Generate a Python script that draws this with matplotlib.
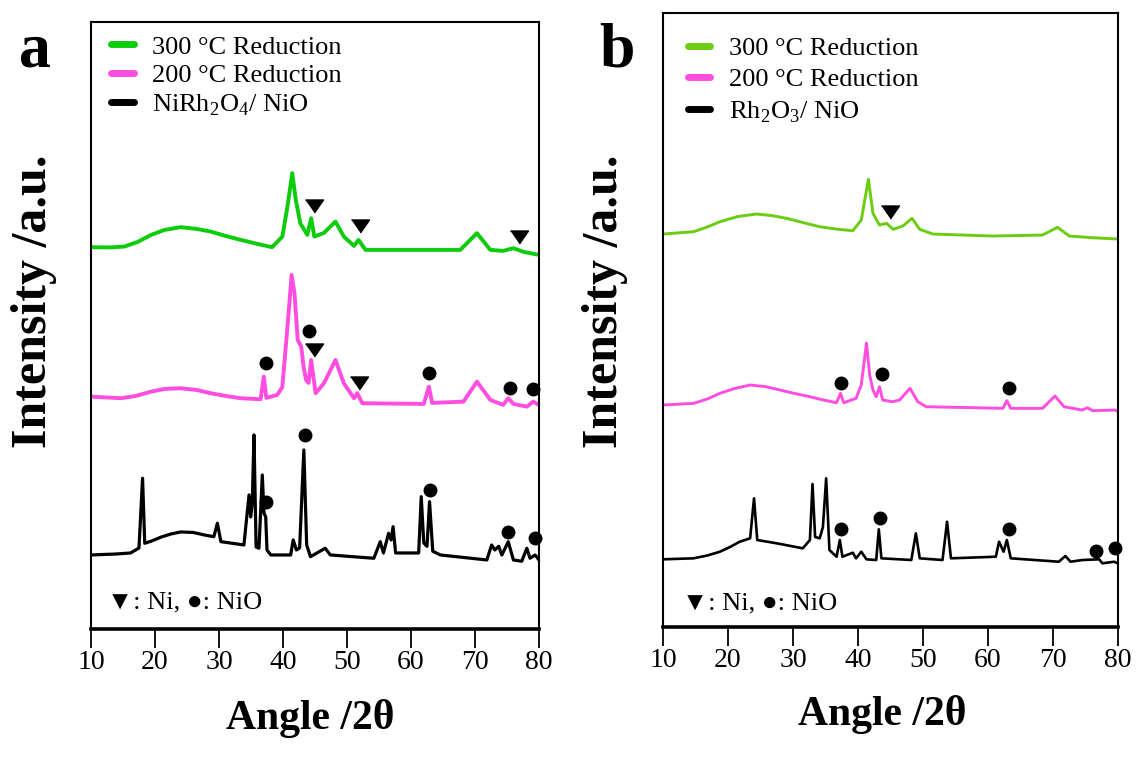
import matplotlib
matplotlib.use("Agg")
import matplotlib.pyplot as plt
from matplotlib.lines import Line2D

plt.rcParams['font.family'] = ['Liberation Serif', 'DejaVu Sans']
plt.rcParams['mathtext.fontset'] = 'custom'
plt.rcParams['mathtext.rm'] = 'Liberation Serif'

# ---------------- Panel a data (2theta, intensity offset a.u.) ----------------
a_black_x = [10, 14.0, 16.2, 17.5, 18.06, 18.4, 19.5, 21.0, 22.5, 24.0, 26.0, 27.7, 29.2, 29.75, 30.3,
             33.9, 34.4, 34.7, 34.95, 35.2, 35.47, 35.8, 36.25, 36.77, 37.03, 37.3, 37.5, 38.1,
             41.2, 41.6, 42.1, 42.6, 43.26, 43.7, 44.3, 46.6, 47.4, 54.2, 55.2, 55.7, 56.5, 56.9,
             57.2, 57.6, 61.2, 61.6, 62.0, 62.5, 62.9, 63.4, 64.6, 71.85, 72.6, 73.1, 73.7, 74.2,
             75.2, 76.0, 77.3, 78.1, 78.6, 79.4, 80.0]
a_black_y = [73, 74, 75, 80, 149.7, 84.7, 87, 91, 94, 96, 95.5, 93, 91.3, 104.7, 86.3,
             83, 114.7, 133, 111, 124.7, 193, 81, 79.7, 153, 114.7, 111, 78, 73,
             73, 88, 78, 80, 178, 83, 71.3, 79.7, 73, 69.7, 86.3, 75, 94.7, 88,
             101.3, 75, 75, 131.3, 85, 81.7, 126.3, 76.7, 73, 68, 83, 78, 81.7, 73,
             86.3, 68, 66.7, 79.7, 69.7, 73, 68]

a_pink_x = [10, 14.7, 17.0, 19.4, 21.5, 24.0, 26.5, 28.7, 31.0, 33.4, 36.5, 37.0, 37.4, 39.1, 39.9,
            40.7, 41.35, 41.8, 42.3, 42.85, 43.2, 43.6, 44.0, 44.4, 45.1, 46.4, 48.2, 49.5, 51.1,
            51.6, 52.4, 62.0, 62.8, 63.3, 68.2, 70.3, 72.4, 74.4, 75.2, 76.0, 78.1, 79.1, 80.0]
a_pink_y = [231.3, 229.7, 232, 236.3, 239, 239.7, 238, 234.7, 232, 229.7, 228.7, 251.3, 230, 233, 241,
            301, 353, 334.7, 288, 281.3, 262, 248, 245, 268, 234.7, 244.7, 268, 244.7, 229.7,
            234.7, 224.7, 224, 241.3, 225, 226.3, 246.3, 228, 223, 229.7, 224, 221.3, 226.3, 223]

a_green_x = [10, 13.0, 15.2, 17.3, 19.4, 21.5, 24.0, 26.5, 28.7, 31.0, 33.4, 36.0, 38.3, 39.9, 40.7,
             41.45, 42.0, 42.7, 43.8, 44.4, 44.9, 46.4, 48.2, 49.5, 51.1, 51.8, 52.9, 67.7, 70.3,
             72.4, 74.4, 76.0, 77.6, 80.0]
a_green_y = [380.7, 380.5, 381.3, 386, 393, 398, 400.7, 399, 396.3, 392, 388, 384, 380.7, 391.3, 421.3,
             454.7, 428, 404.7, 393, 409.7, 391.3, 395, 406.3, 391.3, 382, 388, 378, 378, 394.7,
             378, 377, 379.7, 376, 373]

# marker positions, panel a
a_ni_x = [44.8, 52.0, 76.9, 44.8, 51.8]
a_ni_y = [422, 402, 391.3, 278, 244.7]
a_nio_x = [37.3, 43.4, 63.0, 75.2, 79.4, 37.4, 44.0, 62.75, 75.5, 79.1]
a_nio_y = [126, 193, 138, 96.3, 89.7, 264.7, 297.3, 255.3, 239.7, 238.7]

# ---------------- Panel b data ----------------
b_black_x = [10, 14.7, 16.8, 18.75, 20.3, 21.8, 23.4, 24.0, 24.5, 27.5, 31.5, 32.6, 33.0, 33.4, 34.1,
             34.6, 35.1, 35.6, 36.7, 37.2, 37.6, 39.2, 39.7, 40.5, 41.3, 42.8, 43.2, 43.6, 48.2,
             48.9, 49.5, 53.0, 53.7, 54.3, 61.2, 61.7, 62.4, 62.9, 63.5, 70.9, 71.9, 72.7, 74.5,
             77.1, 77.6, 79.4, 80.0]
b_black_y = [65.7, 66.7, 69.5, 73.3, 78, 83.3, 86.7, 126.7, 85, 81.7, 76.7, 85, 141, 88, 86.7,
             98, 146.7, 75, 68.3, 85, 68.3, 72.3, 66.7, 73.3, 65.7, 65, 95.7, 66.7, 65,
             91.7, 66.7, 65, 103.3, 66.7, 68.3, 83.3, 73.3, 85, 66.7, 63.3, 69, 63.3, 65,
             65.7, 61.7, 63.3, 61.7]

b_pink_x = [10, 14.7, 16.8, 18.75, 21.0, 23.4, 25.7, 28.0, 30.3, 32.6, 34.7, 36.7, 37.3, 37.8, 39.7,
            40.5, 41.3, 41.8, 42.3, 42.8, 43.3, 43.8, 45.3, 46.4, 48.0, 49.2, 50.5, 62.3, 62.9,
            63.5, 68.4, 70.3, 71.7, 74.5, 75.3, 76.1, 79.6, 80.0]
b_pink_y = [220, 221.7, 226, 231.7, 236.5, 240, 238.5, 235, 231.5, 228.3, 225, 222.3, 231.7, 222.3, 226.7,
            240, 282, 250, 235, 228.3, 238.3, 225, 223.3, 225, 236.7, 223.3, 218.3, 216.7, 224.3,
            216.7, 216.7, 229, 218.3, 215, 217.3, 214.3, 215, 213.3]

b_green_x = [10, 14.7, 16.8, 18.75, 21.5, 24.4, 26.7, 29.0, 31.5, 34.1, 36.6, 39.2, 40.5, 41.6, 42.3,
             43.3, 44.4, 45.4, 46.9, 48.3, 49.5, 51.5, 60.7, 68.4, 70.7, 72.5, 76.1, 80.0]
b_green_y = [391, 393.3, 398, 403.3, 408.5, 411, 409.5, 406.7, 402.5, 398.3, 396, 394.3, 405, 445.7, 411.7,
             400, 401.7, 395.7, 399, 406.7, 395.7, 391, 389, 390, 397.7, 389, 387.3, 386]

b_ni_x = [44.85]
b_ni_y = [413.3]
b_nio_x = [37.4, 43.4, 63.2, 76.6, 79.5, 37.4, 43.7, 63.2]
b_nio_y = [96, 106.7, 96, 74.3, 77.3, 242.3, 250.7, 236.7]

xticks = [10, 20, 30, 40, 50, 60, 70, 80]
labels_a = ['300 °C Reduction', '200 °C Reduction', 'NiRh$_\\mathregular{2}$O$_\\mathregular{4}$/ NiO']
labels_b = ['300 °C Reduction', '200 °C Reduction', 'Rh$_\\mathregular{2}$O$_\\mathregular{3}$/ NiO']

GREEN_A = '#0ccc0c'
GREEN_B = '#6ccc10'
PINK = '#ff4ddf'
BLACK = '#000000'

tri = [(-1, 0.72), (1, 0.72), (0, -0.72)]

fig = plt.figure(figsize=(11.4, 7.58), dpi=100)
ax_a = fig.add_axes([0.0798, 0.1702, 0.393, 0.801])
ax_b = fig.add_axes([0.5816, 0.1728, 0.3991, 0.81])


def style(ax, ylim):
    ax.set_xlim(10, 80)
    ax.set_ylim(*ylim)
    ax.set_xticks(xticks)
    ax.set_xticklabels([str(t) for t in xticks])
    ax.set_yticks([])
    ax.tick_params(axis='x', direction='out', length=14, width=1.3, labelsize=20, pad=1)
    for s in ['left', 'right', 'top']:
        ax.spines[s].set_linewidth(1.5)
    ax.spines['bottom'].set_linewidth(2.6)
    ax.set_xlabel('Angle /2θ', fontsize=30, fontweight='bold', labelpad=15)
    ax.set_ylabel('Intensity /a.u.', fontsize=36, fontweight='bold')


# panel a
ax_a.plot(a_black_x, a_black_y, color=BLACK, lw=2.3)
ax_a.plot(a_pink_x, a_pink_y, color=PINK, lw=2.8)
ax_a.plot(a_green_x, a_green_y, color=GREEN_A, lw=2.8)
ax_a.plot(a_ni_x, a_ni_y, ls='none', marker=tri, ms=13, color='black')
ax_a.plot(a_nio_x, a_nio_y, ls='none', marker='o', ms=9, color='black', clip_on=False)
style(ax_a, (-1, 606))
ax_a.yaxis.set_label_coords(-0.076, 0.54)
ax_a.xaxis.set_label_coords(0.49, -0.115)
h_a = [Line2D([], [], color=c, lw=5, solid_capstyle='round') for c in [GREEN_A, PINK, BLACK]]
ax_a.legend(h_a, labels_a, loc='upper left', bbox_to_anchor=(0.045, 0.978), frameon=False,
            fontsize=19, handlelength=0.85, handletextpad=0.7, labelspacing=0.2,
            borderpad=0, borderaxespad=0)
ax_a.text(0.036, 0.043, '▼: Ni, ●: NiO', transform=ax_a.transAxes, fontsize=19,
          va='center', ha='left', family=['Liberation Serif', 'DejaVu Sans'])
fig.text(0.031, 0.932, 'a', fontsize=46, fontweight='bold', ha='center', va='center')

# panel b
ax_b.plot(b_black_x, b_black_y, color=BLACK, lw=1.9)
ax_b.plot(b_pink_x, b_pink_y, color=PINK, lw=2.1)
ax_b.plot(b_green_x, b_green_y, color=GREEN_B, lw=2.1)
ax_b.plot(b_ni_x, b_ni_y, ls='none', marker=tri, ms=13, color='black')
ax_b.plot(b_nio_x, b_nio_y, ls='none', marker='o', ms=9, color='black', clip_on=False)
style(ax_b, (-2, 612))
ax_b.yaxis.set_label_coords(-0.076, 0.53)
ax_b.xaxis.set_label_coords(0.482, -0.11)
h_b = [Line2D([], [], color=c, lw=5, solid_capstyle='round') for c in [GREEN_B, PINK, BLACK]]
ax_b.legend(h_b, labels_b, loc='upper left', bbox_to_anchor=(0.055, 0.962), frameon=False,
            fontsize=19, handlelength=0.85, handletextpad=0.7, labelspacing=0.3,
            borderpad=0, borderaxespad=0)
ax_b.text(0.042, 0.039, '▼: Ni, ●: NiO', transform=ax_b.transAxes, fontsize=19,
          va='center', ha='left', family=['Liberation Serif', 'DejaVu Sans'])
fig.text(0.541, 0.932, 'b', fontsize=46, fontweight='bold', ha='center', va='center')

fig.savefig('out.png', dpi=100)
